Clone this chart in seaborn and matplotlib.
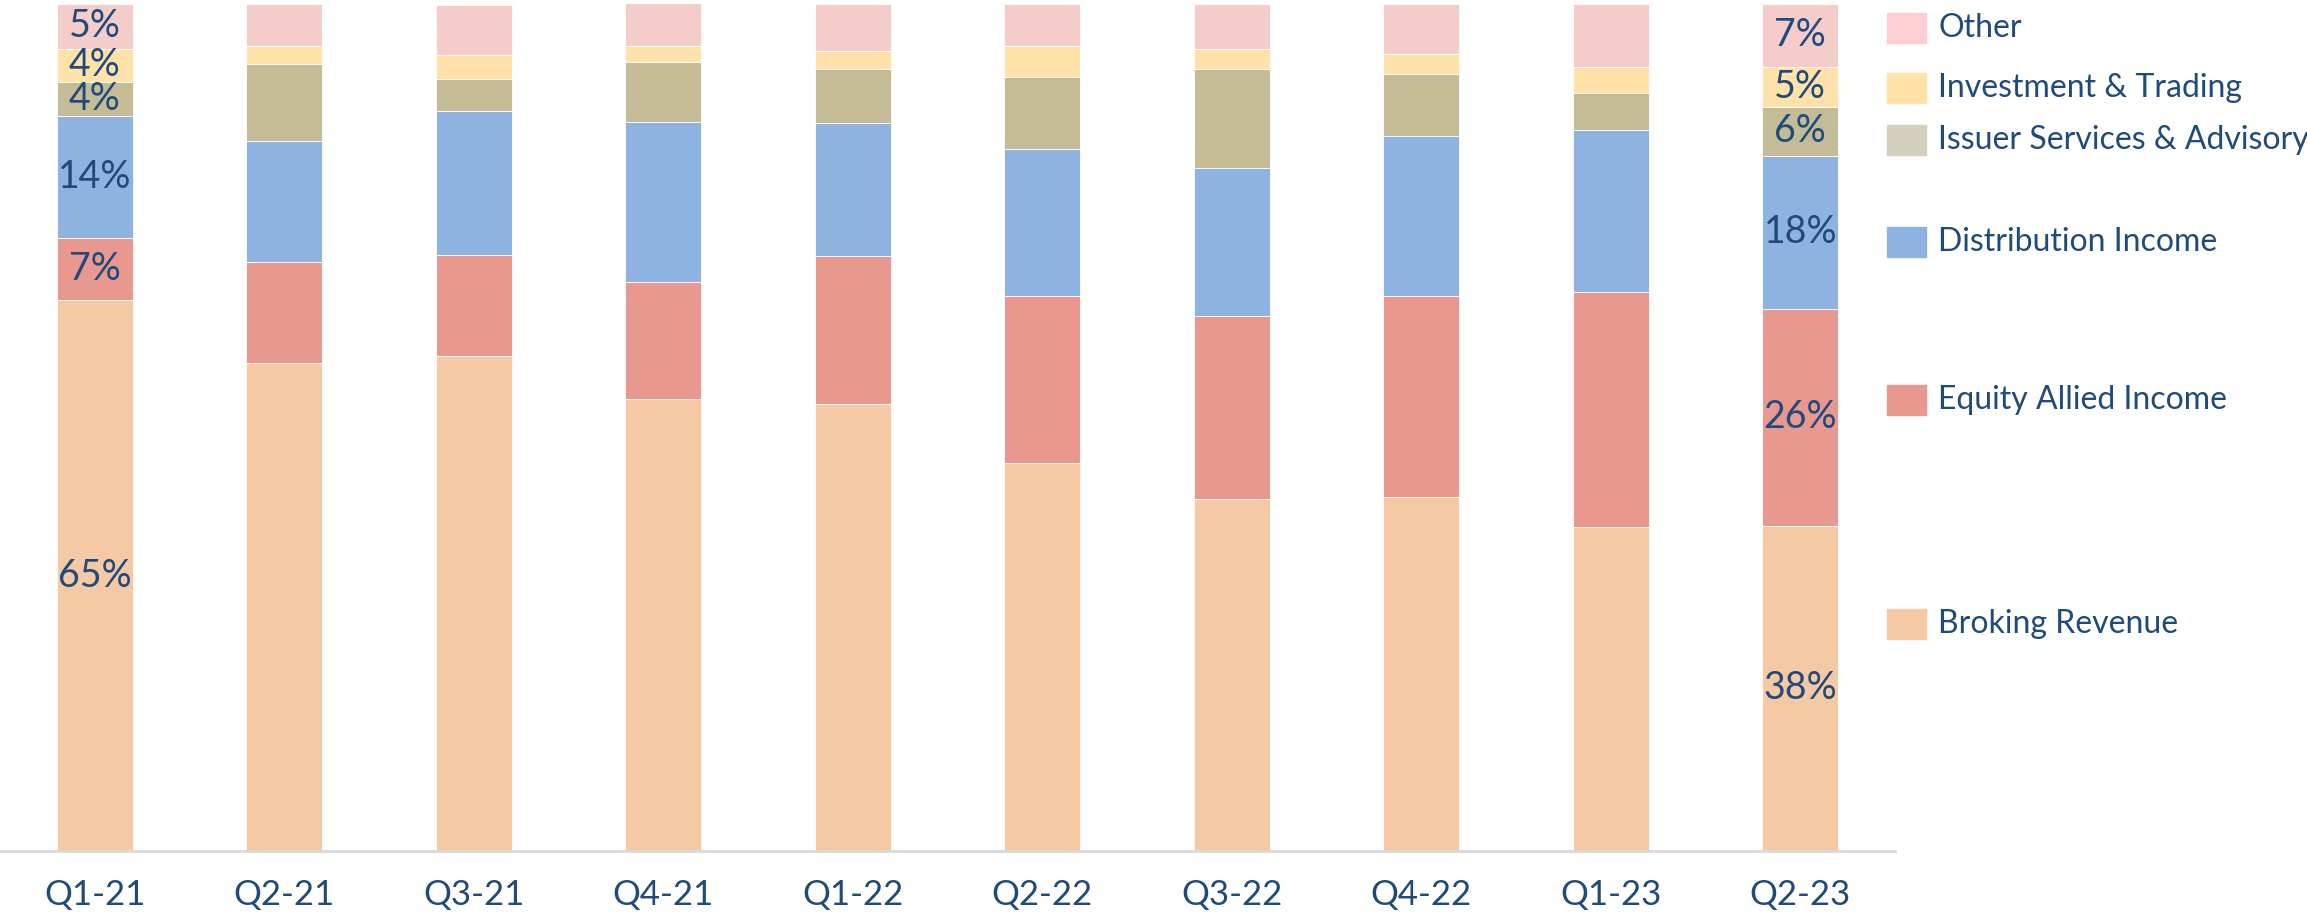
import numpy as np
import pandas as pd
import seaborn as sns
import matplotlib.pyplot as plt
from matplotlib.patches import Rectangle

# Datos (porcentaje de ingresos por segmento)
quarters = ['Q1-21', 'Q2-21', 'Q3-21', 'Q4-21', 'Q1-22', 'Q2-22', 'Q3-22', 'Q4-22', 'Q1-23', 'Q2-23']
broking = [65.0, 57.6, 58.4, 53.4, 52.8, 45.8, 41.6, 41.8, 38.2, 38.4]
equity_allied = [7.4, 11.9, 12.0, 13.8, 17.4, 19.7, 21.6, 23.7, 27.8, 25.6]
distribution = [14.4, 14.3, 17.0, 18.9, 15.8, 17.4, 17.4, 18.9, 19.1, 18.1]
issuer = [4.0, 9.1, 3.8, 7.1, 6.3, 8.5, 11.7, 7.3, 4.4, 5.7]
investment = [3.9, 2.2, 2.8, 1.9, 2.1, 3.6, 2.4, 2.4, 3.1, 4.8]
other = [5.3, 4.9, 5.9, 5.0, 5.6, 5.0, 5.3, 5.9, 7.4, 7.4]

series_names = ['Broking Revenue', 'Equity Allied Income', 'Distribution Income',
                'Issuer Services & Advisory', 'Investment & Trading', 'Other']
series_values = [broking, equity_allied, distribution, issuer, investment, other]
bar_colors = ['#F5C9A3', '#E8988F', '#8FB3E1', '#C4BC97', '#FEE2A9', '#F4CCCA']
legend_colors = ['#F5C9A3', '#E8988F', '#8FB3E1', '#D3D0BD', '#FEE2A9', '#FBCFD1']

text_color = '#1F4A7C'

sns.set_style('white')
plt.rcParams['font.family'] = ['Lato', 'DejaVu Sans']

W, H = 2307, 919
fig = plt.figure(figsize=(W / 100, H / 100), dpi=100)
ax = fig.add_axes([0, 1 - 851 / H, 1895 / W, (851 - 4) / H])

# Barras apiladas
bottom = np.zeros(len(quarters))
for name, vals, col in zip(series_names, series_values, bar_colors):
    df = pd.DataFrame({'Quarter': quarters, 'Share': vals})
    sns.barplot(data=df, x='Quarter', y='Share', color=col, width=0.4,
                bottom=bottom, edgecolor='white', linewidth=0.6, ax=ax,
                saturation=1, errorbar=None)
    bottom = bottom + np.array(vals)

# Etiquetas en la primera y última barra
for cont, vals in zip(ax.containers, series_values):
    labels = [''] * len(vals)
    labels[0] = f'{round(vals[0])}%'
    labels[-1] = f'{round(vals[-1])}%'
    ax.bar_label(cont, labels=labels, label_type='center', color=text_color, fontsize=27)

ax.set_xlim(-0.5, len(quarters) - 0.5)
ax.set_ylim(0, 100)
ax.set_xlabel('')
ax.set_ylabel('')
ax.set_yticks([])
for s in ['top', 'right', 'left']:
    ax.spines[s].set_visible(False)
ax.spines['bottom'].set_color('#D9D9D9')
ax.spines['bottom'].set_linewidth(2)
ax.tick_params(axis='x', length=0, pad=20, labelsize=25, labelcolor=text_color)

# Leyenda manual a la derecha
legend_y = [624, 400, 242, 140, 88, 28]
for name, col, yc in zip(series_names, legend_colors, legend_y):
    fig.patches.append(Rectangle((1887 / W, 1 - (yc + 15) / H), 39 / W, 30 / H,
                                 transform=fig.transFigure, color=col, zorder=3))
    fig.text(1938 / W, 1 - yc / H, name, color=text_color, fontsize=23,
             va='center', ha='left')

fig.savefig('out.png', dpi=100)
